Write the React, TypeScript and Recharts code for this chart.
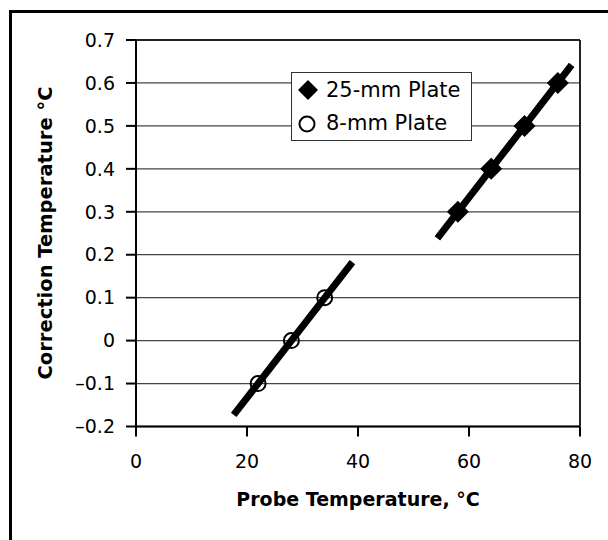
import { ScatterChart, Scatter, XAxis, YAxis, CartesianGrid, ReferenceLine, Label } from 'recharts';

// measured points
const temps8 = [22, 28, 34];
const corr8 = [-0.1, 0, 0.1];
const temps25 = [58, 64, 70, 76];
const corr25 = [0.3, 0.4, 0.5, 0.6];

// fitted lines (end points)
const fit8X = [17.6, 39];
const fit8Y = [-0.173, 0.183];
const fit25X = [54.3, 78.5];
const fit25Y = [0.238, 0.642];

const xTicks = [0, 20, 40, 60, 80];
const yTicks = [-0.2, -0.1, 0, 0.1, 0.2, 0.3, 0.4, 0.5, 0.6, 0.7];

const FONT = '"DejaVu Sans", Verdana, sans-serif';

const toPoints = (xs: number[], ys: number[]) => xs.map((x, i) => ({ x, y: ys[i] }));

const plate8 = toPoints(temps8, corr8);
const plate25 = toPoints(temps25, corr25);
const line8 = toPoints(fit8X, fit8Y);
const line25 = toPoints(fit25X, fit25Y);

const fmtY = (v: number) => {
  const s = Math.abs(v).toFixed(1).replace(/^0\.0$/, '0');
  return v < -0.001 ? '\u2013' + s : s;
};

const Diamond = (props: any) => {
  const { cx, cy } = props;
  const r = 11;
  return <polygon points={`${cx},${cy - r} ${cx + r},${cy} ${cx},${cy + r} ${cx - r},${cy}`} fill="#000" />;
};

const Ring = (props: any) => {
  const { cx, cy } = props;
  return <circle cx={cx} cy={cy} r={7.5} fill="none" stroke="#000" strokeWidth={2} />;
};

const NoDot = () => <g />;

export default function App() {
  return (
    <div style={{ position: 'absolute', left: 0, top: 0, width: 608, height: 540, overflow: 'hidden', background: '#fff', fontFamily: FONT }}>
      <div style={{ position: 'absolute', left: 9, top: 10, width: 640, height: 580, border: '3px solid #000' }} />
      <div style={{ position: 'absolute', left: 0, top: 0 }}>
        <ScatterChart width={608} height={540} margin={{ top: 40, right: 28, bottom: 53.5, left: 0 }}>
          <CartesianGrid horizontal vertical={false} stroke="#444" strokeWidth={1.3} />
          <XAxis
            type="number"
            dataKey="x"
            domain={[0, 80]}
            ticks={xTicks}
            allowDataOverflow
            height={60}
            tickSize={10}
            tickMargin={18}
            axisLine={{ stroke: '#000', strokeWidth: 2 }}
            tickLine={{ stroke: '#000', strokeWidth: 2 }}
            tick={{ fill: '#000', fontSize: 19, fontFamily: FONT }}
          >
            <Label
              content={() => (
                <text x={358} y={506} textAnchor="middle" fontWeight="bold" fontSize={19} fontFamily={FONT} fill="#000">
                  Probe Temperature, °C
                </text>
              )}
            />
          </XAxis>
          <YAxis
            type="number"
            dataKey="y"
            domain={[-0.2, 0.7]}
            ticks={yTicks}
            allowDataOverflow
            width={136}
            tickSize={10}
            tickMargin={11}
            tickFormatter={fmtY}
            axisLine={{ stroke: '#000', strokeWidth: 2 }}
            tickLine={{ stroke: '#000', strokeWidth: 2 }}
            tick={{ fill: '#000', fontSize: 19, fontFamily: FONT }}
          >
            <Label
              content={() => (
                <text x={52} y={233} transform="rotate(-90 52 233)" textAnchor="middle" fontWeight="bold" fontSize={19.5} fontFamily={FONT} fill="#000">
                  Correction Temperature °C
                </text>
              )}
            />
          </YAxis>
          <ReferenceLine x={80} stroke="#222" strokeWidth={2} />
          <ReferenceLine y={0.7} stroke="#222" strokeWidth={2} />
          <Scatter data={line8} line={{ stroke: '#000', strokeWidth: 7 }} shape={NoDot} isAnimationActive={false} legendType="none" />
          <Scatter data={line25} line={{ stroke: '#000', strokeWidth: 7 }} shape={NoDot} isAnimationActive={false} legendType="none" />
          <Scatter name="25-mm Plate" data={plate25} shape={Diamond} isAnimationActive={false} />
          <Scatter name="8-mm Plate" data={plate8} shape={Ring} isAnimationActive={false} />
        </ScatterChart>
      </div>
      <div
        style={{
          position: 'absolute',
          left: 291,
          top: 72,
          width: 181,
          height: 69,
          boxSizing: 'border-box',
          border: '1.5px solid #333',
          background: '#fff',
          fontSize: 21,
          color: '#000',
          lineHeight: '33px',
          paddingTop: 1,
        }}
      >
        <div style={{ display: 'flex', alignItems: 'center', height: 33 }}>
          <svg width={34} height={33} style={{ flex: 'none' }}>
            <polygon points="16,6 26,16 16,26 6,16" fill="#000" />
          </svg>
          <span>25-mm Plate</span>
        </div>
        <div style={{ display: 'flex', alignItems: 'center', height: 33 }}>
          <svg width={34} height={33} style={{ flex: 'none' }}>
            <circle cx={15} cy={17} r={7.5} fill="none" stroke="#000" strokeWidth={2} />
          </svg>
          <span>8-mm Plate</span>
        </div>
      </div>
    </div>
  );
}
